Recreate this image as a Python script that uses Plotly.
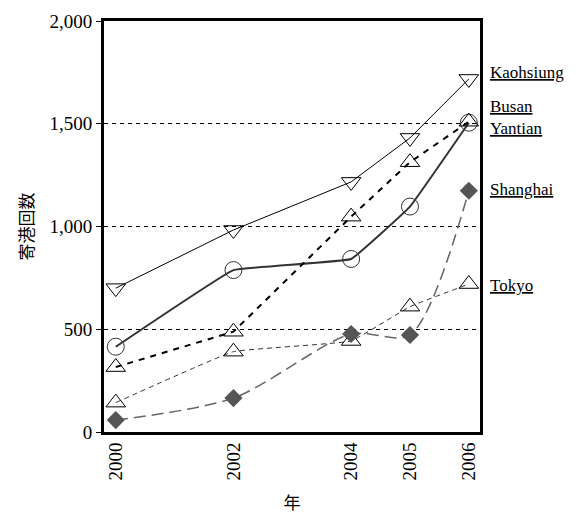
import plotly.graph_objects as go

years = [2000, 2002, 2004, 2005, 2006]
kaohsiung = [700, 983, 1217, 1431, 1718]
busan = [415, 788, 842, 1097, 1505]
yantian = [316, 488, 1048, 1313, 1510]
shanghai = [58, 165, 477, 472, 1174]
tokyo = [143, 391, 443, 610, 720]

label_names = ["Kaohsiung", "Busan", "Yantian", "Shanghai", "Tokyo"]
label_y = [1747, 1586, 1479, 1178, 715]

serif = "'Times New Roman', 'Liberation Serif', serif"
cjk = "'Noto Sans CJK JP'"

fig = go.Figure()

fig.add_trace(go.Scatter(x=years, y=kaohsiung, mode="lines+markers",
    line=dict(color="black", width=1),
    marker=dict(symbol="triangle-down-open", size=17, color="black", line=dict(width=1))))
fig.add_trace(go.Scatter(x=years, y=busan, mode="lines+markers", line_shape="spline",
    line=dict(color="#333333", width=2, smoothing=0.2),
    marker=dict(symbol="circle-open", size=17, color="#333333", line=dict(width=1))))
fig.add_trace(go.Scatter(x=years, y=yantian, mode="lines+markers",
    line=dict(color="black", width=2, dash="6px,6px"),
    marker=dict(symbol="triangle-up-open", size=17, color="black", line=dict(width=1))))
fig.add_trace(go.Scatter(x=years, y=tokyo, mode="lines+markers", line_shape="spline",
    line=dict(color="#333333", width=1, dash="5px,4px", smoothing=0.25),
    marker=dict(symbol="triangle-up-open", size=17, color="black", line=dict(width=1))))
fig.add_trace(go.Scatter(x=years, y=shanghai, mode="lines+markers", line_shape="spline",
    line=dict(color="#666666", width=1.5, dash="12px,6px", smoothing=0.8),
    marker=dict(symbol="diamond", size=14, color="#555555")))

for name, yv in zip(label_names, label_y):
    fig.add_annotation(x=1.02, xref="paper", y=yv, yref="y", text="<u>" + name + "</u>",
                       showarrow=False, xanchor="left", yanchor="middle",
                       font=dict(family=serif, size=17, color="black"))

fig.update_layout(
    width=578, height=519,
    margin=dict(l=104, r=98, t=21, b=87),
    plot_bgcolor="white", paper_bgcolor="white",
    showlegend=False,
    font=dict(family=serif, size=19, color="black"),
)
fig.update_xaxes(
    range=[1999.8, 2006.19], tickvals=years, ticktext=[str(y) for y in years],
    tickangle=-90, showgrid=False, zeroline=False, automargin=False,
    showline=True, linecolor="black", linewidth=3, mirror=True,
    ticks="", tickfont=dict(family=serif, size=19),
    title=dict(text="年", font=dict(family=cjk, size=17), standoff=18),
)
fig.update_yaxes(
    range=[0, 2000], tickvals=[0, 500, 1000, 1500, 2000], tickformat=",",
    showgrid=True, gridcolor="black", griddash="4px,4px", gridwidth=1,
    zeroline=False, showline=True, linecolor="black", linewidth=3, mirror=True,
    ticks="outside", ticklen=5, tickcolor="black", tickwidth=1, automargin=False,
    tickfont=dict(family=serif, size=19),
    title=dict(text="寄港回数", font=dict(family=cjk, size=17), standoff=12),
)

fig.write_html("out.html")
